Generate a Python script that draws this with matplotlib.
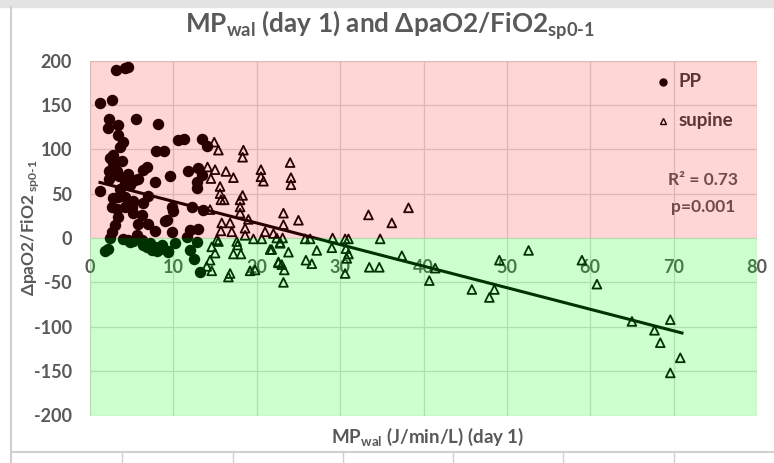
import numpy as np
import matplotlib.pyplot as plt
from matplotlib.lines import Line2D
from matplotlib.patches import Rectangle

plt.rcParams['font.family'] = ['Lato', 'DejaVu Sans']
plt.rcParams['mathtext.fontset'] = 'custom'
plt.rcParams['mathtext.rm'] = 'Lato:bold'
plt.rcParams['mathtext.bf'] = 'Lato:bold'
plt.rcParams['axes.unicode_minus'] = False

# prone position patients: MPwal (J/min/L) vs change in paO2/FiO2
pp_x = [1.2, 2.6, 3.1, 4.2, 4.6, 2.3, 2.2, 3.4, 5.5, 8.1, 3.3, 4.0, 3.6, 7.9, 8.9,
        2.8, 3.8, 2.7, 6.8, 2.3, 3.2, 4.6, 6.4, 5.8, 2.3, 7.8, 9.6, 2.6, 5.4, 4.2,
        1.2, 3.4, 4.2, 5.2, 7.0, 6.4, 2.6, 3.2, 4.2, 5.2, 6.2, 3.4, 7.0, 9.0, 3.0,
        5.8, 7.8, 2.6, 2.4, 4.0, 4.6, 5.6, 6.2, 6.4, 6.8, 7.4, 7.8, 8.0, 9.4, 1.8,
        2.2, 10.6, 11.3, 13.4, 14.0, 11.7, 13.0, 13.4, 12.8, 12.8, 9.8, 12.2, 13.6, 10.0, 9.2,
        9.8, 12.0, 13.0, 11.6, 12.8, 10.2, 9.4, 12.0, 12.5, 13.2, 2.4, 2.9, 3.5, 4.8, 5.0,
        3.6, 2.8, 4.8, 5.2, 7.2, 8.4, 8.6]
pp_y = [152, 156, 189, 192, 193, 134, 124, 127, 134, 128, 116, 108, 103, 98, 98,
        93, 87, 84, 80, 75, 75, 72, 77, 66, 67, 63, 70, 71, 65, 62,
        53, 46, 46, 42, 47, 39, 35, 33, 35, 28, 26, 24, 16, 19, 15,
        16, 8, 7, 0, -1, -2, 3, -2, -8, -10, -13, -10, -15, -15, -15,
        -12, 110, 112, 112, 104, 75, 79, 71, 63, 56, 35, 35, 32, 30, 20,
        7, 9, 10, 1, -4, -6, -16, -13, -24, -38, 90, 80, 70, 60, 35,
        55, 45, -4, -3, -6, -12, -8]

# supine patients
supine_x = [14.9, 15.4, 18.4, 18.3, 14.1, 15.0, 16.3, 14.5, 17.2, 20.5, 20.5, 20.8, 15.6, 15.6, 16.1,
            15.7, 18.3, 18.0, 18.0, 18.0, 19.0, 14.4, 15.8, 16.8, 15.7, 17.0, 18.6, 18.6, 21.0, 22.0,
            15.4, 17.6, 19.6, 20.6, 22.8, 17.7, 14.6, 15.0, 14.4, 17.2, 18.1, 21.6, 22.6, 14.6, 14.0,
            16.8, 16.6, 19.2, 19.8, 23.2, 24.0, 24.1, 24.1, 23.2, 25.0, 23.2, 33.4, 36.2, 38.2, 25.8,
            26.4, 29.1, 30.6, 31.0, 34.8, 22.4, 23.1, 29.0, 31.0, 30.8, 30.6, 27.2, 23.8, 25.9, 26.6,
            33.5, 34.7, 37.4, 40.7, 23.0, 23.3, 22.6, 22.8, 21.8, 30.7, 41.4, 45.8, 48.5, 47.9, 49.1,
            52.6, 59.0, 60.8, 65.0, 67.7, 68.4, 69.6, 70.8, 69.6, 15.2]
supine_y = [108, 99, 99, 91, 80, 77, 75, 67, 68, 77, 69, 64, 58, 50, 43,
            43, 48, 43, 35, 28, 21, 32, 17, 17, 8, 7, 11, 3, 7, 5,
            -4, -4, -1, -1, -5, -8, -10, -17, -25, -18, -18, -13, -27, -37, -32,
            -40, -44, -37, -36, -50, 85, 68, 60, 28, 20, 15, 26, 17, 34, -1,
            -1, 0, -1, -1, -1, 0, 0, -11, -18, -23, -40, -14, -16, -25, -29,
            -33, -33, -20, -48, -30, -36, -28, -6, -13, -12, -34, -58, -58, -67, -25,
            -14, -25, -52, -94, -104, -118, -92, -135, -152, -2]

# linear trendline over all patients
trend_intercept = 65.5
trend_slope = -2.43
trend_x = [1.2, 71.0]
r_squared = 0.73
p_value = 0.001

x_ticks = [0, 10, 20, 30, 40, 50, 60, 70, 80]
y_ticks = [-200, -150, -100, -50, 0, 50, 100, 150, 200]

grey = '#595959'
W, H = 774, 463

fig = plt.figure(figsize=(W / 100, H / 100), dpi=100)

# worksheet around the chart
fig.patches.append(Rectangle((0, 1 - 7 / H), 1, 7 / H, transform=fig.transFigure,
                             color='#e3e3e3', zorder=0))
fig.lines.append(Line2D([11 / W, 11 / W], [0, 1 - 7 / H], transform=fig.transFigure,
                        color='#d0d0d0', lw=1.5))
fig.lines.append(Line2D([11 / W, 1], [11 / H, 11 / H], transform=fig.transFigure,
                        color='#d0d0d0', lw=1.5))
for cx in [122, 233, 343, 453, 563, 674]:
    fig.lines.append(Line2D([cx / W, cx / W], [0, 11 / H], transform=fig.transFigure,
                            color='#d0d0d0', lw=1))

ax = fig.add_axes([90 / W, 47.5 / H, 667 / W, 355 / H])
ax.set_xlim(0, 80)
ax.set_ylim(-200, 200)
ax.set_xticks(x_ticks)
ax.set_yticks(y_ticks)
ax.set_axisbelow(True)
ax.grid(True, color='#d9d9d9', lw=0.9)
for s in ax.spines.values():
    s.set_color('none')
ax.spines['bottom'].set_position(('data', 0))
ax.tick_params(length=0, labelsize=13, labelcolor=grey)
ax.tick_params(axis='x', pad=15)
ax.tick_params(axis='y', pad=13)
for lab in ax.get_xticklabels() + ax.get_yticklabels():
    lab.set_fontweight('bold')

ax.scatter(pp_x, pp_y, s=68, color='black', zorder=3, lw=0)
ax.scatter(supine_x, supine_y, s=40, marker='^', facecolors='none',
           edgecolors='black', linewidths=1.3, zorder=3)

tx = np.array(trend_x)
ax.plot(tx, trend_intercept + trend_slope * tx, color='black', lw=2.2, zorder=4)

# legend and statistics
ax.plot(68.75, 176, 'o', color='black', ms=5, zorder=4)
ax.text(70.6, 176, 'PP', fontsize=13.5, fontweight='bold', color='#404040',
        va='center', ha='left', zorder=4)
ax.plot(68.75, 132, '^', mfc='none', mec='black', ms=4.5, mew=1, zorder=4)
ax.text(70.6, 132, 'supine', fontsize=13.5, fontweight='bold', color='#404040',
        va='center', ha='left', zorder=4)
ax.text(73.5, 65, f'R² = {r_squared:.2f}', fontsize=12.5, fontweight='bold',
        color=grey, va='center', ha='center', zorder=4)
ax.text(73.5, 35, f'p={p_value:.3f}', fontsize=12.5, fontweight='bold',
        color=grey, va='center', ha='center', zorder=4)

# red band above zero, green band below, laid over everything
ax.axhspan(0, 200, color=(1, 0, 0), alpha=0.16, lw=0, zorder=10)
ax.axhspan(-200, 0, color=(0, 1, 0), alpha=0.2, lw=0, zorder=10)

fig.text(390 / W, 1 - 25 / H, r'MP$_{\mathrm{wal}}$ (day 1) and ΔpaO2/FiO2$_{\text{sp0-1}}$',
         fontsize=18.8, fontweight='bold', color=grey, ha='center', va='center')
fig.text(428 / W, 1 - 437 / H, r'MP$_{\mathrm{wal}}$ (J/min/L) (day 1)',
         fontsize=13.5, fontweight='bold', color=grey, ha='center', va='center')
fig.text(30 / W, 1 - 228 / H, r'ΔpaO2/FiO2$_{\text{ sp0-1}}$', rotation=90,
         fontsize=12.5, fontweight='bold', color=grey, ha='center', va='center')

fig.savefig('out.png', dpi=100)
